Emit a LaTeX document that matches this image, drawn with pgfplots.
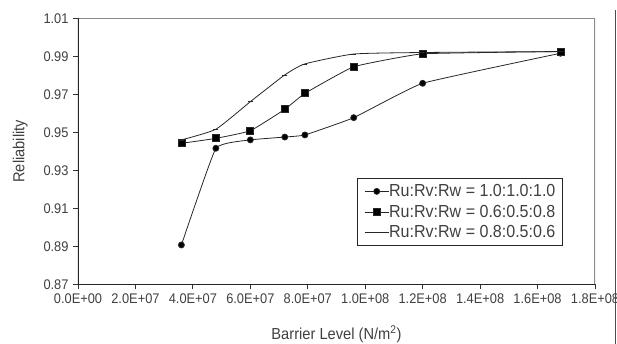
\documentclass[border=0pt]{standalone}
\usepackage{pgfplots}
\pgfplotsset{compat=1.18}
\usepackage{fontspec}
\setmainfont[FakeStretch=0.92]{Liberation Sans}
\begin{document}
\begin{tikzpicture}[x=1bp,y=1bp]
\begin{axis}[
  at={(0,0)}, anchor=south west,
  width=517bp, height=266bp, scale only axis,
  xmin=0, xmax=1.8e8, ymin=0.87, ymax=1.01,
  xtick={0,2e7,4e7,6e7,8e7,1e8,1.2e8,1.4e8,1.6e8,1.8e8},
  xticklabels={0.0E+00,2.0E+07,4.0E+07,6.0E+07,8.0E+07,1.0E+08,1.2E+08,1.4E+08,1.6E+08,1.8E+08},
  scaled x ticks=false,
  ytick={0.87,0.89,0.91,0.93,0.95,0.97,0.99,1.01},
  yticklabel style={xshift=-1bp, /pgf/number format/fixed, /pgf/number format/fixed zerofill, /pgf/number format/precision=2},
  /pgf/number format/assume math mode=true,
  tick label style={font=\fontsize{14}{15}\selectfont, text=black!75},
  xticklabel style={yshift=-1bp},
  tick align=outside, tick pos=left,
  major tick length=5bp,
  tick style={black!80, line width=0.8pt},
  axis line style={draw=none},
  xlabel={Barrier Level (N/m\textsuperscript{2})},
  ylabel={Reliability},
  xlabel style={font=\fontsize{16}{17}\selectfont, text=black!75, yshift=-15bp},
  ylabel style={font=\fontsize{16}{17}\selectfont, text=black!75, yshift=9bp},
  legend style={at={(axis cs:0.971e8,0.9259)}, anchor=north west, draw=black!85, line width=0.9pt,
    font=\fontsize{17.5}{19}\selectfont, text=black!75, inner xsep=7bp, inner ysep=6bp,
    row sep=7pt, legend cell align=left,
    nodes={inner xsep=0pt, inner ysep=0pt},
    /tikz/every even column/.append style={column sep=8bp}},
  legend image code/.code={\draw[#1] (0bp,0bp) -- (24bp,0bp); \draw[#1,mark repeat=1] plot coordinates {(12bp,0bp)};},
]
\draw[black!45, line width=1.3pt] (rel axis cs:0,1) -- (rel axis cs:1,1) -- (rel axis cs:1,0);
\draw[black!85, line width=1.3pt] (rel axis cs:0,1) -- (rel axis cs:0,0) -- (rel axis cs:1,0);
\addplot[black!85, line width=0.8pt, mark=*, mark size=3bp, mark options={fill=black}, smooth, tension=0.2] coordinates {
 (3.6e7,0.8907) (4.8e7,0.9416) (6.0e7,0.9460) (7.2e7,0.9475) (7.9e7,0.9486) (9.6e7,0.9577) (1.2e8,0.9758) (1.68e8,0.9916)
};
\addlegendentry{Ru:Rv:Rw = 1.0:1.0:1.0}
\addplot[black!85, line width=0.8pt, mark=square*, mark size=3.5bp, mark options={fill=black}, smooth, tension=0.2] coordinates {
 (3.6e7,0.9442) (4.8e7,0.9468) (6.0e7,0.9508) (7.2e7,0.9621) (7.9e7,0.9705) (9.6e7,0.9845) (1.2e8,0.9913) (1.68e8,0.9925)
};
\addlegendentry{Ru:Rv:Rw = 0.6:0.5:0.8}
\addplot[black!85, line width=0.8pt, mark=-, mark size=2.5bp, smooth, tension=0.3] coordinates {
 (3.6e7,0.9460) (4.8e7,0.9516) (6.0e7,0.9661) (7.2e7,0.9802) (7.9e7,0.9860) (9.6e7,0.9912) (1.2e8,0.9920) (1.68e8,0.9925)
};
\addlegendentry{Ru:Rv:Rw = 0.8:0.5:0.6}
\end{axis}
\draw[black!70, line width=0.8pt] (537.7bp,-59.7bp) -- (537.7bp,274bp);
\pgfresetboundingbox
\path (-78bp,-59.7bp) rectangle (539bp,284.3bp);
\end{tikzpicture}
\end{document}
